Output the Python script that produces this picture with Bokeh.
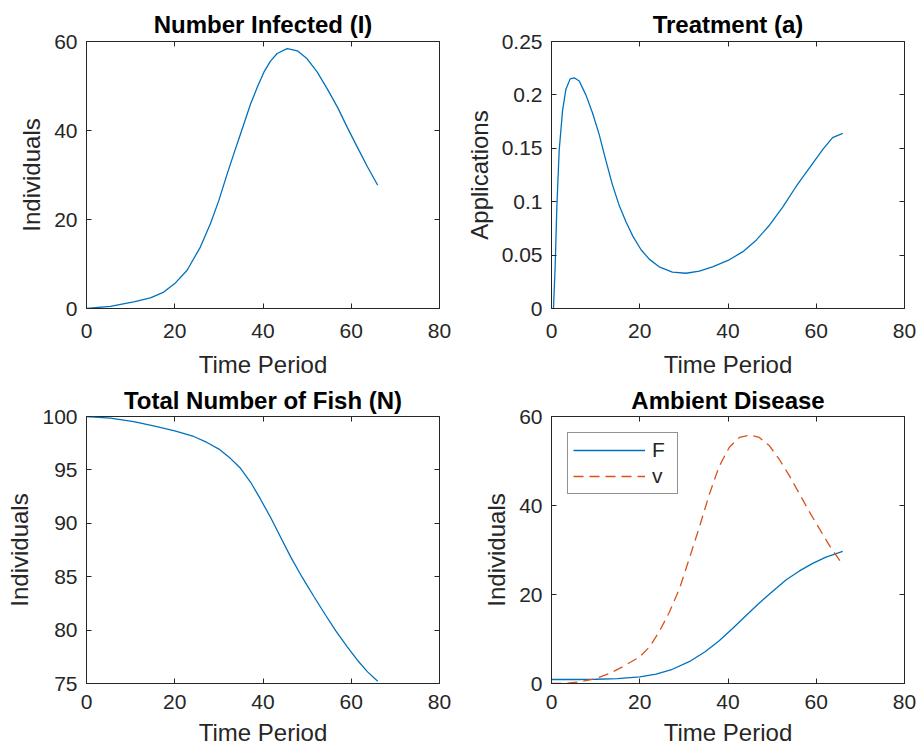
from bokeh.plotting import figure
from bokeh.layouts import gridplot
from bokeh.models import LinearAxis, FixedTicker, Legend, LegendItem
from bokeh.embed import file_html
from bokeh.resources import INLINE

# ---- data ----
t_I = [0, 5.4, 10.7, 14.5, 17.5, 20.0, 22.8, 25.8, 28.1, 30.0, 31.9, 33.4, 34.9, 37.2, 38.7,
       40.2, 41.7, 43.2, 45.5, 47.8, 50.0, 52.3, 54.6, 56.9, 59.1, 61.4, 63.7, 66.0]
I_vals = [0.0, 0.5, 1.5, 2.4, 3.7, 5.6, 8.6, 13.8, 19.1, 24.3, 30.3, 34.8, 39.2, 46.0, 49.7,
          53.1, 55.6, 57.3, 58.4, 57.9, 56.1, 53.1, 49.3, 45.2, 40.7, 36.2, 31.8, 27.7]

t_a = [0.45, 0.83, 1.21, 1.74, 2.5, 3.25, 4.23, 5.14, 6.28, 7.79, 9.3, 10.8, 12.3, 13.8, 15.3,
       16.9, 18.4, 20.3, 22.2, 24.4, 27.4, 30.5, 33.5, 36.5, 40.0, 43.3, 46.4, 49.4, 52.4,
       55.4, 58.5, 61.5, 63.7, 66.0]
a_vals = [0.0, 0.039, 0.095, 0.148, 0.185, 0.205, 0.215, 0.216, 0.213, 0.2, 0.183, 0.163,
          0.139, 0.116, 0.097, 0.081, 0.068, 0.055, 0.046, 0.039, 0.034, 0.033, 0.035, 0.039,
          0.045, 0.053, 0.064, 0.078, 0.095, 0.114, 0.132, 0.149, 0.160, 0.164]

t_N = [0, 5.4, 10.7, 15.2, 20.0, 24.3, 27.3, 30.0, 32.6, 34.9, 37.2, 39.4, 41.7, 44.0, 46.3,
       48.9, 51.6, 54.2, 56.5, 59.1, 61.4, 63.7, 66.0]
N_vals = [100, 99.84, 99.53, 99.13, 98.66, 98.13, 97.57, 96.95, 96.08, 95.15, 93.84, 92.28,
          90.57, 88.70, 86.83, 84.93, 83.10, 81.39, 79.92, 78.43, 77.18, 76.09, 75.22]

t_F = [0, 5, 10, 15, 20, 23.7, 27.4, 31.2, 34.9, 38.0, 41.1, 44.1, 47.1, 50.0, 53.2, 56.2,
       59.2, 62.2, 66.0]
F_vals = [0.9, 0.9, 0.95, 1.1, 1.49, 2.09, 3.2, 4.9, 7.2, 9.6, 12.4, 15.3, 18.1, 20.6,
          23.3, 25.3, 27.0, 28.4, 29.7]

t_v = [0, 3.25, 6.28, 10.0, 13.1, 16.1, 20.0, 22.2, 24.4, 26.7, 29.0, 31.2, 33.5, 35.8, 38.0,
       40.3, 42.6, 45.0, 47.1, 49.4, 51.6, 53.9, 56.2, 58.5, 60.7, 63.0, 66.0]
v_vals = [0.0, 0.07, 0.37, 1.12, 2.24, 3.74, 5.98, 8.22, 11.6, 16.0, 21.3, 28.0, 35.1, 42.6,
          48.8, 53.1, 55.3, 55.8, 55.3, 53.4, 50.4, 46.7, 42.6, 38.5, 34.8, 31.0, 26.7]

titles = ["Number Infected (I)", "Treatment (a)", "Total Number of Fish (N)", "Ambient Disease"]
ylabels = ["Individuals", "Applications", "Individuals", "Individuals"]
xlabel = "Time Period"
x_ticks = [0, 20, 40, 60, 80]
legend_labels = ["F", "v"]

BLUE = "#0072BD"
ORANGE = "#D95319"
AX = "#262626"
FONT = "Liberation Sans"

def make(title, ylab, yrange, yticks, w, h, bl, br, bt, bb, tstand, xls, xas):
    p = figure(width=w, height=h, x_range=(0, 80), y_range=yrange,
               output_backend="svg", toolbar_location=None, tools="",
               min_border_left=bl, min_border_right=br, min_border_top=bt, min_border_bottom=bb)
    p.title.text = title
    p.title.text_font = FONT
    p.title.text_font_size = "24px"
    p.title.text_font_style = "bold"
    p.title.text_color = "black"
    p.title.align = "center"
    p.title.standoff = tstand
    p.grid.visible = False
    p.outline_line_color = AX
    p.outline_line_width = 1
    p.background_fill_color = "white"
    p.border_fill_color = "white"
    for ax in (p.xaxis[0], p.yaxis[0]):
        ax.major_label_text_font = FONT
        ax.major_label_text_font_size = "21px"
        ax.major_label_text_color = AX
        ax.axis_label_text_font = FONT
        ax.axis_label_text_font_size = "24px"
        ax.axis_label_text_font_style = "normal"
        ax.axis_label_text_color = AX
        ax.axis_line_color = AX
        ax.major_tick_line_color = AX
        ax.major_tick_in = 5
        ax.major_tick_out = 0
        ax.minor_tick_line_color = None
    p.xaxis[0].ticker = FixedTicker(ticks=x_ticks)
    p.yaxis[0].ticker = FixedTicker(ticks=yticks)
    p.xaxis[0].axis_label = xlabel
    p.yaxis[0].axis_label = ylab
    p.xaxis[0].major_label_standoff = xls
    p.yaxis[0].major_label_standoff = 9
    p.xaxis[0].axis_label_standoff = xas
    p.yaxis[0].axis_label_standoff = 6
    # box ticks on top and right (labels hidden)
    for loc, tk in (("above", x_ticks), ("right", yticks)):
        a = LinearAxis(ticker=FixedTicker(ticks=tk))
        a.major_label_text_font_size = "1px"
        a.major_label_text_color = None
        a.major_label_standoff = 0
        a.axis_line_color = None
        a.major_tick_line_color = AX
        a.major_tick_in = 5
        a.major_tick_out = 0
        a.minor_tick_line_color = None
        p.add_layout(a, loc)
    return p

W1, W2 = 459, 459
H1, H2 = 381, 368

p1 = make(titles[0], ylabels[0], (0, 60), [0, 20, 40, 60], W1, H1, 86, 20, 41, 73, 7, 15, 10)
p1.line(t_I, I_vals, line_color=BLUE, line_width=1.3)

p2 = make(titles[1], ylabels[1], (0, 0.25), [0, 0.05, 0.1, 0.15, 0.2, 0.25], W2, H1, 92, 14, 41, 73, 7, 15, 10)
p2.line(t_a, a_vals, line_color=BLUE, line_width=1.3)

p3 = make(titles[2], ylabels[2], (75, 100), [75, 80, 85, 90, 95, 100], W1, H2, 86, 20, 35, 66, 5, 11, 7)
p3.line(t_N, N_vals, line_color=BLUE, line_width=1.3)

p4 = make(titles[3], ylabels[3], (0, 60), [0, 20, 40, 60], W2, H2, 92, 14, 35, 66, 5, 11, 7)
rF = p4.line(t_F, F_vals, line_color=BLUE, line_width=1.3)
rv = p4.line(t_v, v_vals, line_color=ORANGE, line_width=1.3, line_dash="10 6")
leg = Legend(items=[LegendItem(label=legend_labels[0], renderers=[rF]),
                    LegendItem(label=legend_labels[1], renderers=[rv])],
             location="top_left")
leg.margin = 16
leg.padding = 5
leg.spacing = 2
leg.glyph_width = 72
leg.glyph_height = 24
leg.label_height = 24
leg.label_standoff = 7
leg.label_text_font = FONT
leg.label_text_font_size = "21px"
leg.label_text_color = AX
leg.border_line_color = AX
leg.border_line_width = 1
leg.background_fill_alpha = 1
p4.add_layout(leg, "center")

grid = gridplot([[p1, p2], [p3, p4]], toolbar_location=None)

open("out.html", "w").write(file_html(grid, INLINE))
